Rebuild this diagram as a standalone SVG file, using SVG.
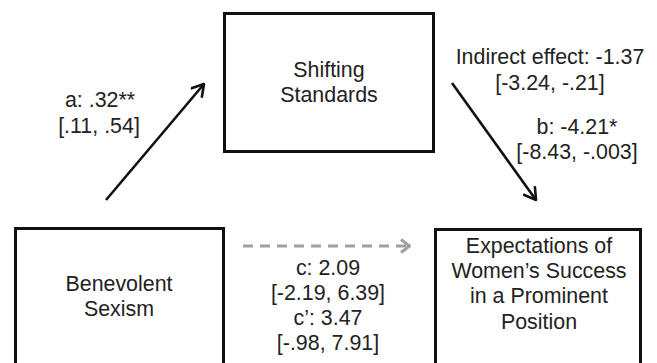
<svg xmlns="http://www.w3.org/2000/svg" width="657" height="363" viewBox="0 0 657 363">
<defs>
<style>
.box{fill:#fff;stroke:#111;stroke-width:3}
.t{font-family:"Liberation Sans",Arial,sans-serif;font-size:21.4px;fill:#222;text-anchor:middle}
.arr{stroke:#111;stroke-width:2.6;fill:none}
.dash{stroke:#a0a0a0;stroke-width:3;fill:none;stroke-dasharray:10 7}
</style>
<marker id="ah" viewBox="0 0 14 16" refX="13" refY="8" markerWidth="14" markerHeight="16" markerUnits="userSpaceOnUse" orient="auto">
<path d="M1,0.8 L13,8 L1,15.2" fill="none" stroke="#111" stroke-width="2.6"/>
</marker>
<marker id="ahg" viewBox="0 0 12 16" refX="11" refY="8" markerWidth="12" markerHeight="16" markerUnits="userSpaceOnUse" orient="auto">
<path d="M2,1.5 L10.5,8 L2,14.5" fill="none" stroke="#a0a0a0" stroke-width="3"/>
</marker>
</defs>
<rect width="657" height="363" fill="#fff"/>
<g id="connectors">
<line class="arr" x1="106" y1="200" x2="204" y2="84" marker-end="url(#ah)"/>
<line class="arr" x1="452" y1="83" x2="536" y2="200" marker-end="url(#ah)"/>
<line class="dash" x1="243" y1="246" x2="410" y2="246" marker-end="url(#ahg)"/>
<text class="t" x="100" y="107">a: .32**</text>
<text class="t" x="99" y="133">[.11, .54]</text>
<text class="t" x="550" y="64">Indirect effect: -1.37</text>
<text class="t" x="550" y="90">[-3.24, -.21]</text>
<text class="t" x="577" y="134">b: -4.21*</text>
<text class="t" x="577" y="159">[-8.43, -.003]</text>
<text class="t" x="328" y="275">c: 2.09</text>
<text class="t" x="328" y="300">[-2.19, 6.39]</text>
<text class="t" x="328" y="325">c’: 3.47</text>
<text class="t" x="328" y="350">[-.98, 7.91]</text>
</g>
<g id="node-shifting">
<rect class="box" x="224.5" y="13.5" width="209" height="138"/>
<text class="t" x="329" y="77">Shifting</text>
<text class="t" x="329" y="102">Standards</text>
</g>
<g id="node-benevolent">
<rect class="box" x="15.5" y="228.5" width="208" height="150"/>
<text class="t" x="119" y="291">Benevolent</text>
<text class="t" x="119" y="316">Sexism</text>
</g>
<g id="node-expectations">
<rect class="box" x="435.5" y="229.5" width="205" height="150"/>
<text class="t" x="539" y="253">Expectations of</text>
<text class="t" x="539" y="278">Women’s Success</text>
<text class="t" x="539" y="303">in a Prominent</text>
<text class="t" x="539" y="329">Position</text>
</g>
</svg>
